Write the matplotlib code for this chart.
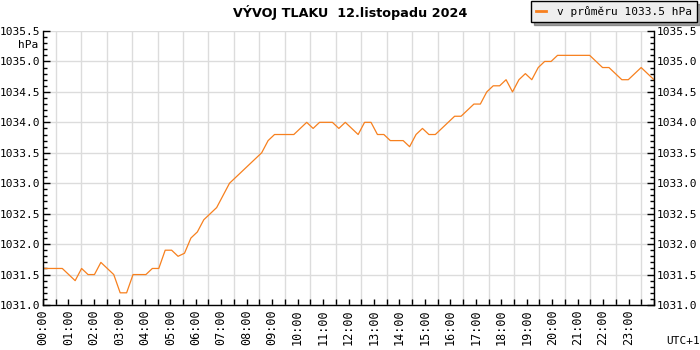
import matplotlib.pyplot as plt
import matplotlib
import numpy as np

matplotlib.rcParams.update({"font.family": "DejaVu Sans Mono", "font.size": 8})

# tlak po 15 minutach, 12.11.2024
pressure = [
    1031.6, 1031.6, 1031.6, 1031.6, 1031.5, 1031.4, 1031.6, 1031.5,
    1031.5, 1031.7, 1031.6, 1031.5, 1031.2, 1031.2, 1031.5, 1031.5,
    1031.5, 1031.6, 1031.6, 1031.9, 1031.9, 1031.8, 1031.85, 1032.1,
    1032.2, 1032.4, 1032.5, 1032.6, 1032.8, 1033.0, 1033.1, 1033.2,
    1033.3, 1033.4, 1033.5, 1033.7, 1033.8, 1033.8, 1033.8, 1033.8,
    1033.9, 1034.0, 1033.9, 1034.0, 1034.0, 1034.0, 1033.9, 1034.0,
    1033.9, 1033.8, 1034.0, 1034.0, 1033.8, 1033.8, 1033.7, 1033.7,
    1033.7, 1033.6, 1033.8, 1033.9, 1033.8, 1033.8, 1033.9, 1034.0,
    1034.1, 1034.1, 1034.2, 1034.3, 1034.3, 1034.5, 1034.6, 1034.6,
    1034.7, 1034.5, 1034.7, 1034.8, 1034.7, 1034.9, 1035.0, 1035.0,
    1035.1, 1035.1, 1035.1, 1035.1, 1035.1, 1035.1, 1035.0, 1034.9,
    1034.9, 1034.8, 1034.7, 1034.7, 1034.8, 1034.9, 1034.8, 1034.7,
]
hours = np.linspace(0, 24, len(pressure))
hour_labels = ["%02d:00" % h for h in range(24)]
avg_label = "v průměru 1033.5 hPa"

fig = plt.figure(figsize=(7, 3.5), dpi=100)
ax = fig.add_axes([43 / 700, 1 - 305 / 350, 611 / 700, 274 / 350])

ax.plot(hours, pressure, color="#f7801e", lw=0.9, label=avg_label)

ax.set_xlim(0, 24)
ax.set_ylim(1031.0, 1035.5)

ax.set_xticks(np.arange(0, 24, 1))
ax.set_xticklabels(hour_labels, rotation=90)
ax.set_xticks(np.arange(0, 24.01, 0.5), minor=True)
ax.set_yticks(np.arange(1031.0, 1035.51, 0.5))
ax.set_yticklabels(["%.1f" % v for v in np.arange(1031.0, 1035.51, 0.5)])
ax.set_yticks(np.arange(1031.0, 1035.51, 0.1), minor=True)

ax.grid(True, which="minor", axis="x", color="#dcdcdc", lw=1)
ax.grid(True, which="major", axis="y", color="#dcdcdc", lw=1)
ax.set_axisbelow(True)

ax.tick_params(axis="x", which="both", direction="in", length=4, width=1, pad=3,
               labelsize=8.5)
ax.tick_params(axis="y", which="both", direction="in", left=True, right=True,
               labelleft=True, labelright=True, width=1, labelsize=8)
ax.tick_params(axis="y", which="major", length=5, pad=2)
ax.tick_params(axis="y", which="minor", length=3)

ax.spines["top"].set_visible(False)
for s in ["left", "right", "bottom"]:
    ax.spines[s].set_linewidth(1)

fig.text(0.5, 1 - 12 / 350, "VÝVOJ TLAKU  12.listopadu 2024", ha="center",
         va="center", family="DejaVu Sans", weight="bold", fontsize=9.2)
fig.text(38 / 700, 1 - 45 / 350, "hPa", ha="right", va="center", fontsize=8)
fig.text(683 / 700, 1 - 341 / 350, "UTC+1", ha="center", va="center", fontsize=8)

leg = fig.legend(loc="upper right", bbox_to_anchor=(697 / 700, 1 - 1 / 350),
                 frameon=True, fancybox=False, shadow=True, fontsize=8,
                 handlelength=0.9, handletextpad=1.0, borderpad=0.45,
                 borderaxespad=0)
leg.get_frame().set_facecolor("#eeeeee")
leg.get_frame().set_edgecolor("black")
leg.get_frame().set_alpha(1)
leg.get_lines()[0].set_linewidth(2)

fig.savefig("out.png", dpi=100)
